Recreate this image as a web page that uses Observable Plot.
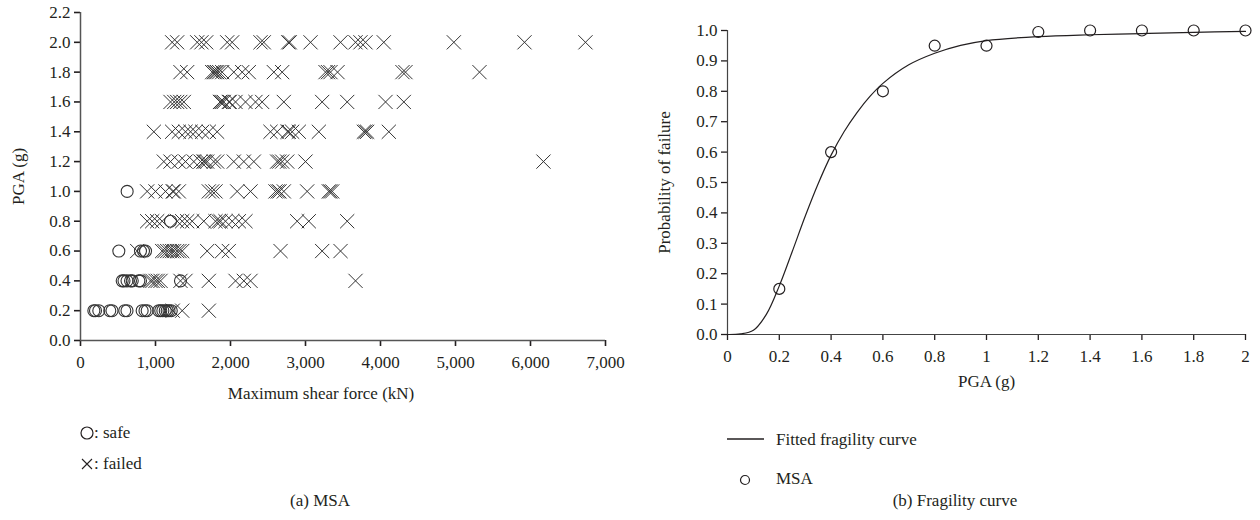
<!DOCTYPE html>
<html><head><meta charset="utf-8">
<script src="https://cdn.jsdelivr.net/npm/d3@7"></script>
<script src="https://cdn.jsdelivr.net/npm/@observablehq/plot@0.6"></script>
<style>
body{margin:0;background:#fff;font-family:"Liberation Serif",serif;color:#231f20;}
#root{position:relative;width:1260px;height:520px;overflow:hidden;background:#fff}
.abs{position:absolute}
.txt{font-size:17px;white-space:nowrap;line-height:1}
</style></head><body><div id="root"></div>
<script>
// ---------- (a) MSA scatter data ----------
const pgaLevels = [0.2, 0.4, 0.6, 0.8, 1.0, 1.2, 1.4, 1.6, 1.8, 2.0];
const safeForces = [
  [178, 200, 244, 390, 420, 590, 620, 822, 860, 889, 1044, 1070, 1098, 1130, 1156, 1180, 1210],
  [556, 580, 620, 667, 690, 778, 800, 1333],
  [511, 800, 840, 867],
  [1200],
  [622],
  [], [], [], [], []
];
const failedForces = [
  [1230, 1356, 1711],
  [933, 960, 1000, 1030, 1067, 1333, 1400, 1711, 2067, 2178, 2267, 3667],
  [756, 1089, 1120, 1156, 1190, 1222, 1250, 1289, 1320, 1356, 1689, 1889, 1978, 2667, 3222, 3467],
  [889, 956, 1022, 1089, 1289, 1356, 1422, 1489, 1644, 1800, 1840, 1867, 1933, 2022, 2111, 2200, 2889, 3044, 3556],
  [889, 1000, 1133, 1230, 1244, 1311, 1711, 1756, 1800, 2089, 2267, 2600, 2630, 2653, 2711, 3022, 3311, 3330, 3356],
  [1111, 1200, 1311, 1400, 1511, 1600, 1640, 1660, 1689, 1778, 1822, 2044, 2178, 2311, 2622, 2650, 2689, 2756, 3000, 6173],
  [978, 1222, 1311, 1400, 1467, 1533, 1622, 1711, 1822, 2533, 2622, 2760, 2778, 2822, 2911, 3178, 3778, 3800, 3822, 4111],
  [1200, 1250, 1289, 1330, 1378, 1860, 1867, 1890, 1911, 1978, 1990, 2067, 2200, 2333, 2422, 2711, 3222, 3556, 4067, 4311],
  [1333, 1422, 1756, 1780, 1800, 1822, 1850, 1889, 2044, 2156, 2244, 2578, 2689, 3267, 3300, 3333, 3427, 4293, 4333, 5320],
  [1222, 1289, 1556, 1613, 1676, 1956, 2022, 2400, 2444, 2770, 2790, 3067, 3467, 3667, 3733, 3800, 4044, 4978, 5920, 6733]
];
const leftXTicks = [0, 1000, 2000, 3000, 4000, 5000, 6000, 7000];
const leftYTicks = [0, 0.2, 0.4, 0.6, 0.8, 1.0, 1.2, 1.4, 1.6, 1.8, 2.0, 2.2];

// ---------- (b) Fragility curve data ----------
const msaPGA = [0.2, 0.4, 0.6, 0.8, 1.0, 1.2, 1.4, 1.6, 1.8, 2.0];
const msaProb = [0.15, 0.6, 0.8, 0.95, 0.95, 0.995, 1.0, 1.0, 1.0, 1.0];
const curvePGA = [0, 0.05, 0.1, 0.15, 0.2, 0.25, 0.3, 0.35, 0.4, 0.45, 0.5, 0.55, 0.6, 0.7, 0.8, 0.9, 1.0, 1.2, 1.4, 1.6, 1.8, 2.0];
const curveProb = [0, 0.002, 0.014, 0.066, 0.16, 0.273, 0.389, 0.496, 0.59, 0.667, 0.73, 0.783, 0.826, 0.887, 0.925, 0.951, 0.967, 0.98, 0.986, 0.99, 0.994, 0.997];
const rightXTicks = [0, 0.2, 0.4, 0.6, 0.8, 1.0, 1.2, 1.4, 1.6, 1.8, 2.0];
const rightYTicks = [0, 0.1, 0.2, 0.3, 0.4, 0.5, 0.6, 0.7, 0.8, 0.9, 1.0];

const safeData = pgaLevels.flatMap((p, i) => safeForces[i].map(f => ({pga: p, force: f})));
const failedData = pgaLevels.flatMap((p, i) => failedForces[i].map(f => ({pga: p, force: f})));
const msaData = msaPGA.map((x, i) => ({x, y: msaProb[i]}));
const curveData = curvePGA.map((x, i) => ({x, y: curveProb[i]}));

const ink = "#231f20";
const style = {fontFamily: "'Liberation Serif', serif", fontSize: "17px", color: ink, background: "transparent"};
const root = document.getElementById("root");

const left = Plot.plot({
  width: 630, height: 405,
  marginLeft: 80, marginRight: 25, marginTop: 12, marginBottom: 65,
  style,
  x: {domain: [0, 7000]},
  y: {domain: [0, 2.2]},
  marks: [
    Plot.axisX({ticks: leftXTicks, tickFormat: d3.format(","), tickSize: 6, tickPadding: 9, strokeWidth: 1.6, label: null}),
    Plot.axisY({ticks: leftYTicks, tickFormat: d => d.toFixed(1), tickSize: 6, tickPadding: 4, strokeWidth: 1.6,
      label: "PGA (g)", labelAnchor: "center", labelOffset: 69, labelArrow: "none"}),
    Plot.ruleX([0], {stroke: "#555", strokeWidth: 1.5}),
    Plot.ruleY([0], {stroke: "#555", strokeWidth: 1.5}),
    Plot.dot(safeData, {x: "force", y: "pga", symbol: "circle", r: 6, stroke: "#333", strokeWidth: 1.1, fill: "none"}),
    Plot.dot(failedData, {x: "force", y: "pga", symbol: "times", r: 6.5, stroke: "#333", strokeWidth: 1})
  ]
});
left.classList.add("abs");
left.style.left = "0px"; left.style.top = "0px";
root.appendChild(left);

const right = Plot.plot({
  width: 620, height: 400,
  marginLeft: 87, marginRight: 15, marginTop: 30, marginBottom: 66,
  style,
  x: {domain: [0, 2]},
  y: {domain: [0, 1]},
  marks: [
    Plot.axisX({ticks: rightXTicks, tickFormat: d => String(+d.toFixed(1)), tickSize: 6, tickPadding: 9, strokeWidth: 1.3,
      label: "PGA (g)", labelAnchor: "center", labelOffset: 52, labelArrow: "none"}),
    Plot.axisY({ticks: rightYTicks, tickFormat: d => d.toFixed(1), tickSize: 6, tickPadding: 4, strokeWidth: 1.3,
      label: "Probability of failure", labelAnchor: "center", labelOffset: 70, labelArrow: "none"}),
    Plot.ruleX([0], {stroke: "#444", strokeWidth: 1.2}),
    Plot.ruleY([0], {stroke: "#444", strokeWidth: 1.2}),
    Plot.line(curveData, {x: "x", y: "y", curve: "catmull-rom", stroke: ink, strokeWidth: 1.2}),
    Plot.dot(msaData, {x: "x", y: "y", symbol: "circle", r: 5.5, stroke: ink, strokeWidth: 1.2, fill: "none"})
  ]
});
right.classList.add("abs");
right.style.left = "640px"; right.style.top = "0px";
root.appendChild(right);

// ---------- titles, legends and captions ----------
function addHTML(html, x, y) {
  const d = document.createElement("div");
  d.className = "abs txt";
  d.style.left = x + "px"; d.style.top = y + "px";
  d.innerHTML = html;
  root.appendChild(d);
  return d;
}
const xTitleA = addHTML("Maximum shear force (kN)", 121, 385); xTitleA.style.width = "400px"; xTitleA.style.textAlign = "center";
addHTML(`<svg width="14" height="14" style="vertical-align:-2px"><circle cx="7" cy="7" r="6" fill="none" stroke="${ink}" stroke-width="1.2"/></svg>: safe`, 80, 424);
addHTML(`<svg width="14" height="14" style="vertical-align:-2px"><path d="M2,2L12,12M2,12L12,2" stroke="${ink}" stroke-width="1.1"/></svg>: failed`, 80, 455);
const capA = addHTML("(a) MSA", 0, 492); capA.style.width = "640px"; capA.style.textAlign = "center";

addHTML(`<svg width="40" height="10" style="vertical-align:2px"><line x1="0" y1="5" x2="37" y2="5" stroke="${ink}" stroke-width="1.3"/></svg>`, 727, 432);
addHTML("Fitted fragility curve", 776, 431);
addHTML(`<svg width="12" height="12"><circle cx="6" cy="6" r="4.5" fill="none" stroke="${ink}" stroke-width="1.2"/></svg>`, 739, 472);
addHTML("MSA", 776, 470);
const capB = addHTML("(b) Fragility curve", 640, 492); capB.style.width = "630px"; capB.style.textAlign = "center";
</script></body></html>
